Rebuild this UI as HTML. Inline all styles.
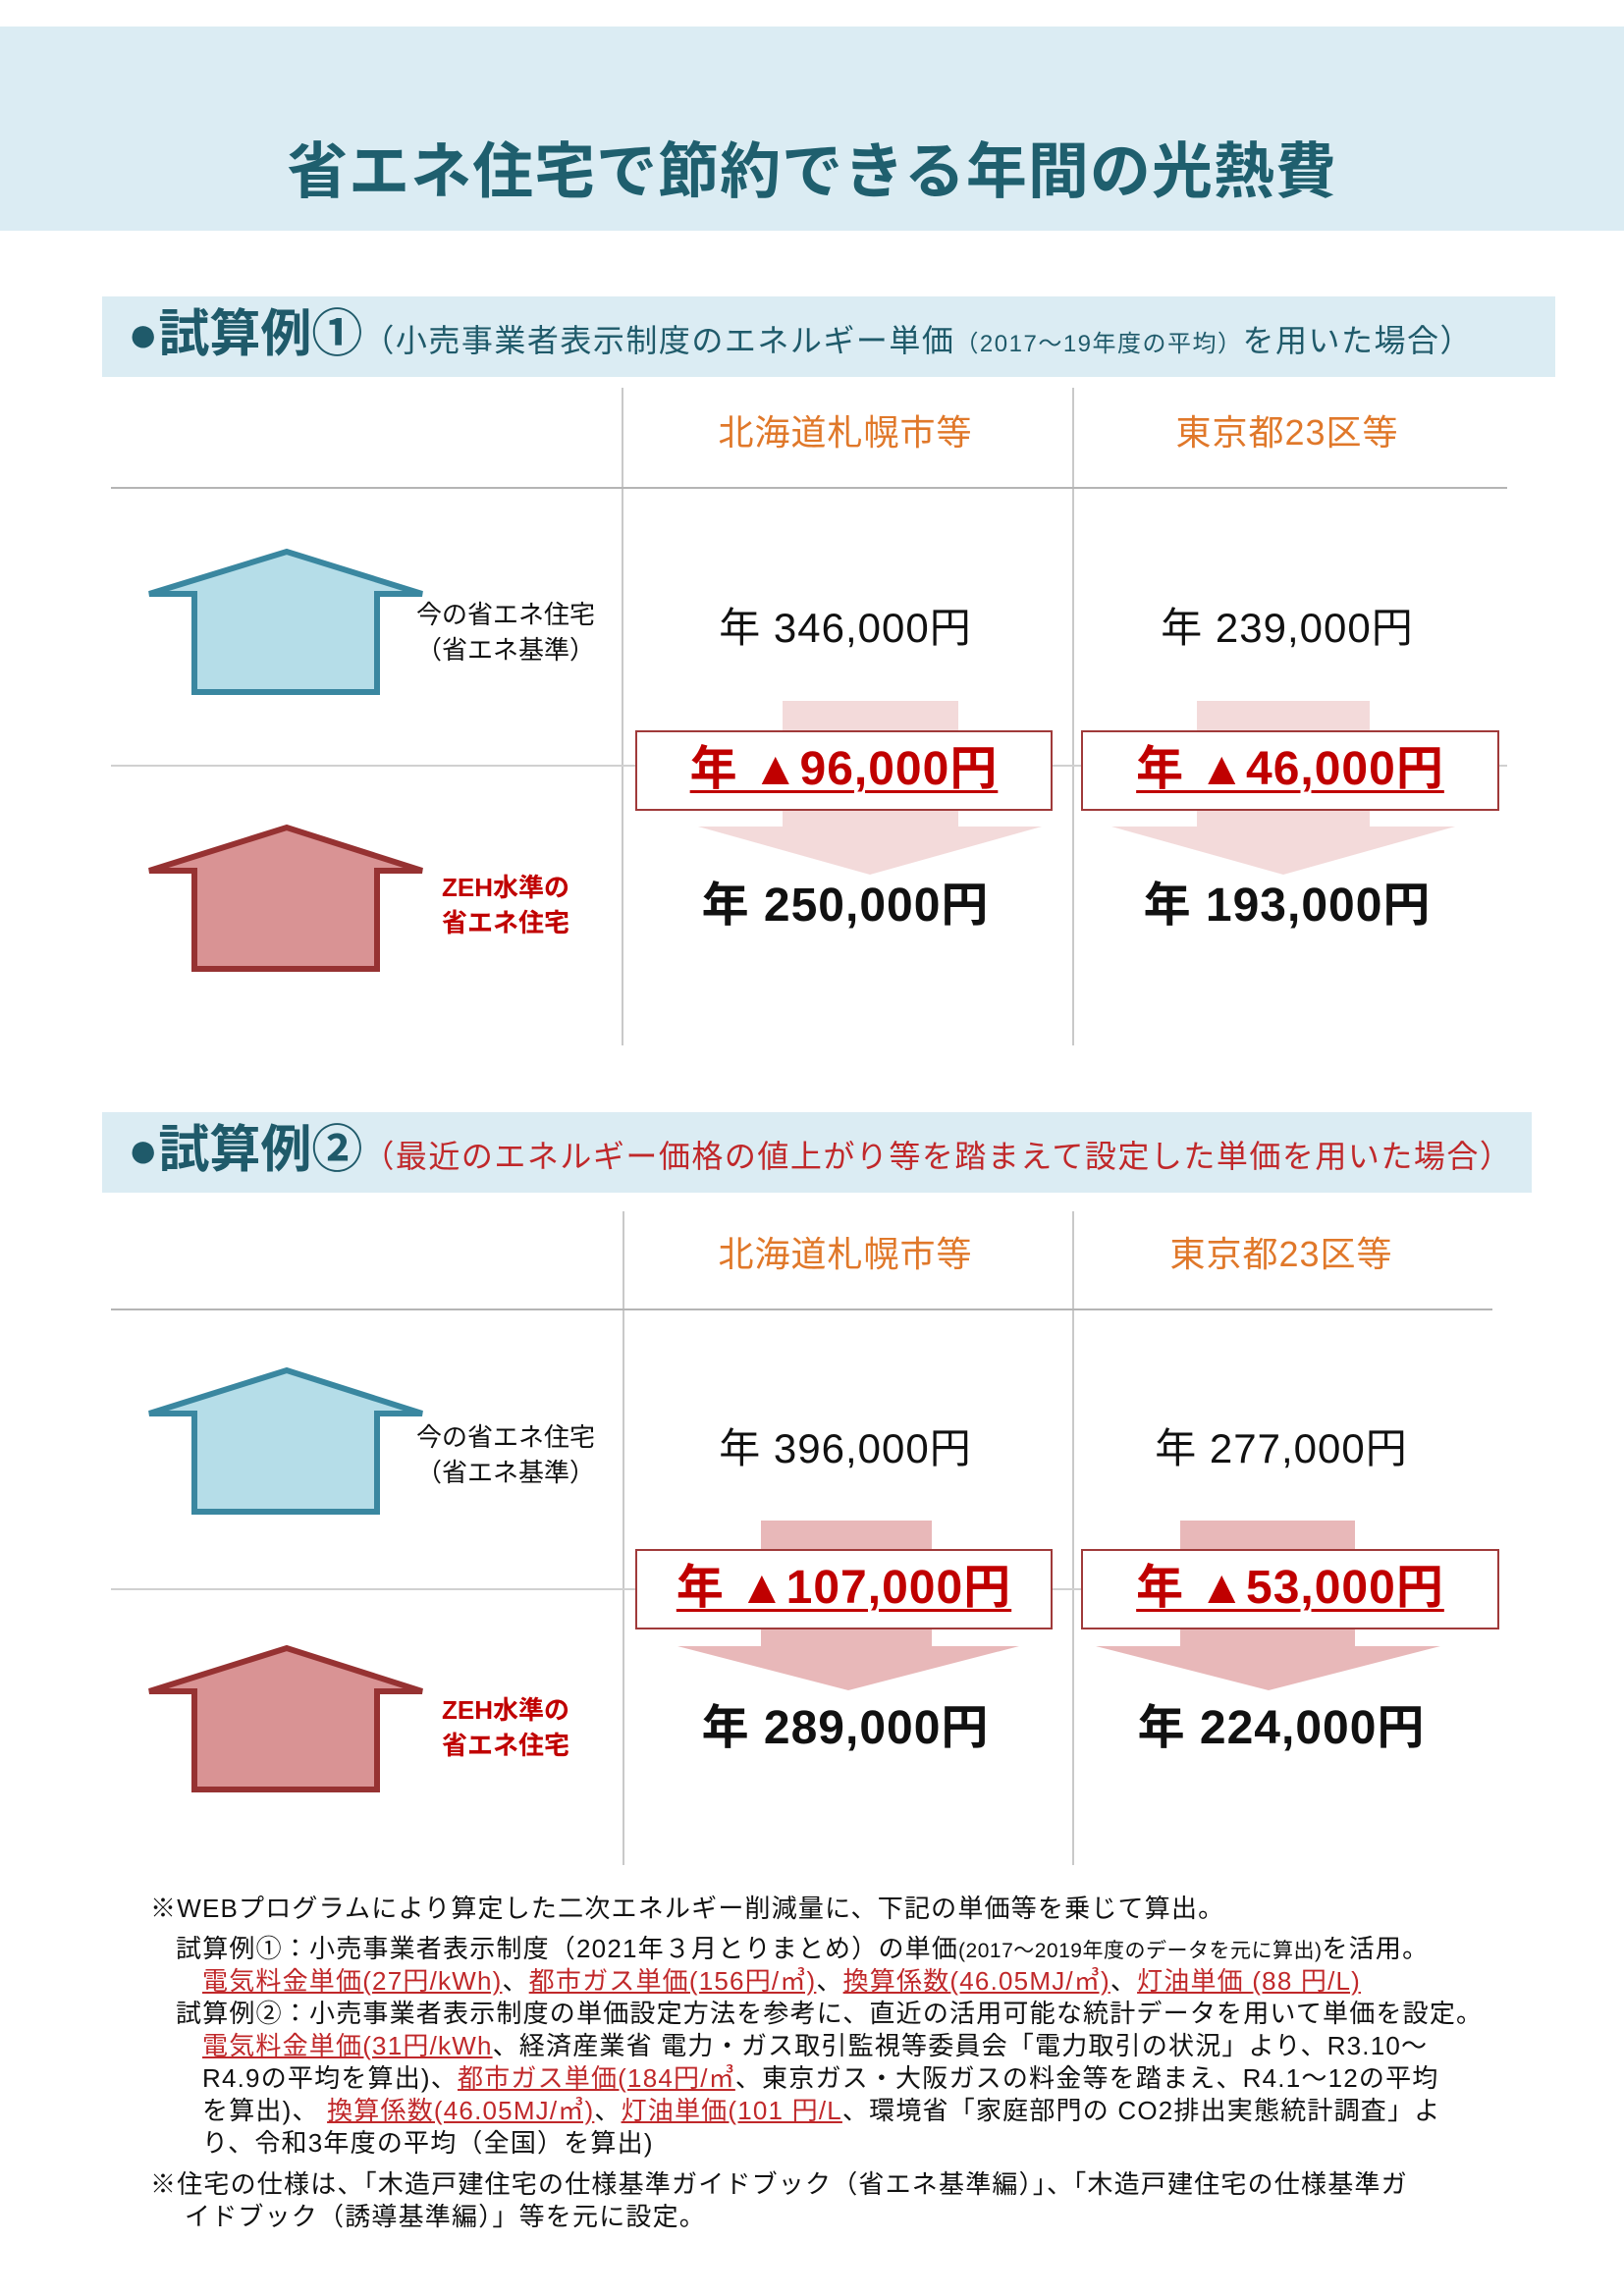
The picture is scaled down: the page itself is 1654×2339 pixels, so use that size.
<!DOCTYPE html>
<html><head><meta charset="utf-8">
<style>
*{margin:0;padding:0;box-sizing:border-box}
body{width:1654px;height:2339px;background:#fff;position:relative;overflow:hidden;font-family:"Liberation Sans","Noto Sans CJK JP",sans-serif;color:#111}
.a{position:absolute;white-space:nowrap}
.band{position:absolute;background:#dbecf3}
.vl{position:absolute;width:2px;background:#c9c9c9}
.hl{position:absolute;height:2px;background:#b5b5b5}
.col{position:absolute;width:440px;text-align:center;color:#e0782a;font-size:36px;line-height:40px;letter-spacing:1px}
.val{position:absolute;width:440px;text-align:center;font-size:42px;line-height:46px;color:#111;letter-spacing:1px}
.valb{position:absolute;width:440px;text-align:center;font-size:48px;line-height:52px;font-weight:bold;color:#111;letter-spacing:1px}
.box{position:absolute;border:2px solid #a03a3a;background:#fff;text-align:center;color:#c00000;font-weight:bold;font-size:48px;line-height:76px;letter-spacing:1px}
.box span{text-decoration:underline;text-decoration-thickness:3px;text-underline-offset:6px}
.lbl{position:absolute;text-align:center;font-size:26px;line-height:36px}
.foot{position:absolute;font-size:26px;letter-spacing:1.2px;line-height:33px;white-space:nowrap;color:#111}
.r{color:#c0282a;text-decoration:underline}
.hd{position:absolute;left:130px;font-size:52px;font-weight:bold;color:#1f5a6a;line-height:60px;white-space:nowrap}
.hd .s{font-size:32px;font-weight:normal;letter-spacing:1.5px}
</style></head><body>
<div class="band" style="left:0;top:27px;width:1654px;height:208px"></div>
<div class="a" style="left:0;width:1654px;top:140px;text-align:center;font-size:62px;font-weight:bold;color:#1f5f6e;line-height:72px;letter-spacing:1px">省エネ住宅で節約できる年間の光熱費</div>

<!-- section 1 -->
<div class="band" style="left:104px;top:302px;width:1480px;height:82px"></div>
<div class="hd" style="top:311px">●試算例①<span class="s">（小売事業者表示制度のエネルギー単価<span style="font-size:24px">（2017～19年度の平均）</span>を用いた場合）</span></div>

<svg class="a" style="left:0;top:0" width="1654" height="2339">
<polygon points="797,714 976,714 976,842 1061,842 886,891 711,842 797,842" fill="#f3dada"/>
<polygon points="1219,714 1395,714 1395,842 1482,842 1307,891 1132,842 1219,842" fill="#f3dada"/>
<polygon points="775,1549 949,1549 949,1677 1038,1677 864,1722 690,1677 775,1677" fill="#e8b8b9"/>
<polygon points="1202,1549 1380,1549 1380,1677 1467,1677 1292,1722 1116,1677 1202,1677" fill="#e8b8b9"/>
<g stroke-width="6" stroke-linejoin="miter">
<polygon points="198,705 198,605 152,605 292,562 430,605 384,605 384,705" fill="#b5dde8" stroke="#3a87a0"/>
<polygon points="198,987 198,887 152,887 292,843 430,887 384,887 384,987" fill="#d99394" stroke="#963232"/>
<polygon points="198,1540 198,1440 152,1440 292,1396 430,1440 384,1440 384,1540" fill="#b5dde8" stroke="#3a87a0"/>
<polygon points="198,1823 198,1723 152,1723 292,1679 430,1723 384,1723 384,1823" fill="#d99394" stroke="#963232"/>
</g>
</svg>

<div class="vl" style="left:633px;top:395px;height:670px"></div>
<div class="vl" style="left:1092px;top:395px;height:670px"></div>
<div class="hl" style="left:113px;top:496px;width:1422px"></div>
<div class="hl" style="left:113px;top:779px;width:1422px;background:#d0d0d0"></div>

<div class="col" style="left:641px;top:421px">北海道札幌市等</div>
<div class="col" style="left:1091px;top:421px">東京都23区等</div>
<div class="lbl" style="left:400px;top:608px;width:230px">今の省エネ住宅<br>（省エネ基準）</div>
<div class="lbl" style="left:400px;top:886px;width:230px;color:#c00000;font-weight:bold">ZEH水準の<br>省エネ住宅</div>
<div class="val" style="left:641px;top:617px">年 346,000円</div>
<div class="val" style="left:1091px;top:617px">年 239,000円</div>
<div class="box" style="left:647px;top:744px;width:425px;height:82px"><span>年 ▲96,000円</span></div>
<div class="box" style="left:1101px;top:744px;width:426px;height:82px"><span>年 ▲46,000円</span></div>
<div class="valb" style="left:641px;top:897px">年 250,000円</div>
<div class="valb" style="left:1091px;top:897px">年 193,000円</div>

<!-- section 2 -->
<div class="band" style="left:104px;top:1133px;width:1456px;height:82px"></div>
<div class="hd" style="top:1142px">●試算例②<span class="s" style="color:#c0282a">（最近のエネルギー価格の値上がり等を踏まえて設定した単価を用いた場合）</span></div>

<div class="vl" style="left:634px;top:1234px;height:666px"></div>
<div class="vl" style="left:1092px;top:1234px;height:666px"></div>
<div class="hl" style="left:113px;top:1333px;width:1407px"></div>
<div class="hl" style="left:113px;top:1618px;width:1407px;background:#d0d0d0"></div>

<div class="col" style="left:641px;top:1258px">北海道札幌市等</div>
<div class="col" style="left:1085px;top:1258px">東京都23区等</div>
<div class="lbl" style="left:400px;top:1446px;width:230px">今の省エネ住宅<br>（省エネ基準）</div>
<div class="lbl" style="left:400px;top:1724px;width:230px;color:#c00000;font-weight:bold">ZEH水準の<br>省エネ住宅</div>
<div class="val" style="left:641px;top:1453px">年 396,000円</div>
<div class="val" style="left:1085px;top:1453px">年 277,000円</div>
<div class="box" style="left:647px;top:1578px;width:425px;height:82px"><span>年 ▲107,000円</span></div>
<div class="box" style="left:1101px;top:1578px;width:426px;height:82px"><span>年 ▲53,000円</span></div>
<div class="valb" style="left:641px;top:1735px">年 289,000円</div>
<div class="valb" style="left:1085px;top:1735px">年 224,000円</div>

<!-- footer -->
<div class="foot" style="left:153px;top:1928px">※WEBプログラムにより算定した二次エネルギー削減量に、下記の単価等を乗じて算出。</div>
<div class="foot" style="left:179px;top:1969px">試算例①：小売事業者表示制度（2021年３月とりまとめ）の単価<span style="font-size:21px;letter-spacing:0.5px">(2017～2019年度のデータを元に算出)</span>を活用。</div>
<div class="foot" style="left:206px;top:2002px"><span class="r">電気料金単価(27円/kWh)</span>、<span class="r">都市ガス単価(156円/㎥)</span>、<span class="r">換算係数(46.05MJ/㎥)</span>、<span class="r">灯油単価 (88 円/L)</span></div>
<div class="foot" style="left:179px;top:2035px">試算例②：小売事業者表示制度の単価設定方法を参考に、直近の活用可能な統計データを用いて単価を設定。</div>
<div class="foot" style="left:206px;top:2068px"><span class="r">電気料金単価(31円/kWh</span>、経済産業省 電力・ガス取引監視等委員会「電力取引の状況」より、R3.10～</div>
<div class="foot" style="left:206px;top:2101px">R4.9の平均を算出)、<span class="r">都市ガス単価(184円/㎥</span>、東京ガス・大阪ガスの料金等を踏まえ、R4.1～12の平均</div>
<div class="foot" style="left:206px;top:2134px">を算出)、 <span class="r">換算係数(46.05MJ/㎥)</span>、<span class="r">灯油単価(101 円/L</span>、環境省「家庭部門の CO2排出実態統計調査」よ</div>
<div class="foot" style="left:206px;top:2167px">り、令和3年度の平均（全国）を算出)</div>
<div class="foot" style="left:153px;top:2209px">※住宅の仕様は、「木造戸建住宅の仕様基準ガイドブック（省エネ基準編）」、「木造戸建住宅の仕様基準ガ</div>
<div class="foot" style="left:188px;top:2242px">イドブック（誘導基準編）」等を元に設定。</div>
</body></html>
